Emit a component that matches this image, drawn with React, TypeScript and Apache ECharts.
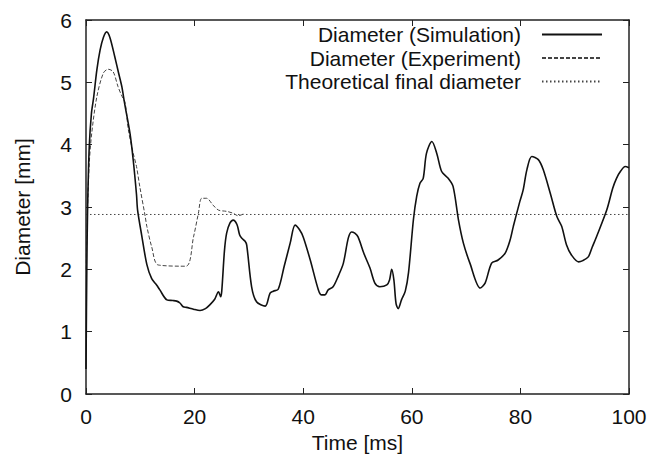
import React, { useEffect, useRef } from "react";
import * as echarts from "echarts";

const xTicks = [0, 20, 40, 60, 80, 100];
const yTicks = [0, 1, 2, 3, 4, 5, 6];

const simTime = [
  0, 0.15, 0.3, 0.6, 1.0, 1.4, 2.0, 2.6, 3.2, 3.8, 4.4, 5.3, 6.0, 6.6, 7.0, 7.2, 8.1, 8.7, 9.3, 9.5,
  10.25, 11.2, 12.1, 13.0, 13.6, 14.9, 16.0, 16.7, 17.3, 17.9, 18.5, 19.8, 21.0, 22.0, 22.8, 23.7,
  24.4, 24.8, 25.0, 25.5, 25.9, 26.5, 27.1, 27.8, 28.3, 28.7, 29.3, 29.6, 30.5, 31.4, 33.0, 33.9,
  34.5, 35.4, 36.5, 37.6, 38.5, 39.3, 40.0, 41.3, 42.8, 43.4, 44.0, 44.6, 45.5, 46.5, 47.4, 48.3,
  48.9, 49.5, 50.1, 51.2, 52.3, 53.2, 54.1, 55.4, 55.9, 56.3, 56.7, 57.1, 57.5, 58.1, 58.8, 59.4,
  60.3, 60.9, 61.5, 62.1, 62.7, 63.7, 64.6, 65.5, 66.7, 67.6, 68.6, 69.5, 70.7, 72.6, 73.5, 74.7,
  75.9, 77.2, 78.1, 78.7, 79.9, 80.5, 81.2, 82.1, 83.3, 84.2, 85.5, 86.7, 87.6, 88.5, 89.4, 90.7,
  91.5, 92.5, 93.2, 94.0, 95.9, 97.0, 97.7, 98.5, 99.3, 100,
];
const simDiameter = [
  0.4, 2.0, 3.0, 3.97, 4.5, 4.75, 5.2, 5.52, 5.72, 5.81, 5.72, 5.41, 5.15, 4.93, 4.72, 4.62, 4.18, 3.75, 3.2, 2.95,
  2.55, 2.08, 1.85, 1.75, 1.67, 1.51, 1.5, 1.49, 1.46, 1.4, 1.39, 1.36, 1.34, 1.37, 1.43, 1.52,
  1.64, 1.56, 1.65, 2.3, 2.58, 2.74, 2.79, 2.72, 2.55, 2.5, 2.45, 2.39, 1.72, 1.48, 1.41, 1.62,
  1.65, 1.68, 2.05, 2.42, 2.71, 2.64, 2.52, 2.15, 1.67, 1.59, 1.59, 1.67, 1.72, 1.9, 2.1, 2.5,
  2.6, 2.58, 2.52, 2.25, 2.02, 1.78, 1.72, 1.75, 1.83, 2.0, 1.83, 1.45, 1.37, 1.51, 1.65, 1.95,
  2.8, 3.17, 3.38, 3.46, 3.86, 4.05, 3.86, 3.57, 3.46, 3.33, 2.79, 2.42, 2.1, 1.7, 1.78, 2.1,
  2.15, 2.26, 2.47, 2.69, 3.09, 3.27, 3.6, 3.81, 3.76, 3.6, 3.22, 2.85, 2.69, 2.39, 2.23, 2.12,
  2.14, 2.2, 2.35, 2.52, 2.95, 3.3, 3.46, 3.58, 3.65, 3.63,
];

const expTime = [
  0, 0.3, 0.6, 1.05, 2.0, 3.2, 4.1, 5.0, 5.9, 6.5, 7.2, 7.8, 8.7, 9.3, 9.9, 10.9, 11.2, 12.1, 13.3,
  18.4, 19.8, 20.7, 21.3, 22.2, 23.4, 24.4, 25.9, 27.1, 28.0, 29.3,
];
const expDiameter = [
  2.0, 3.0, 3.7, 4.18, 4.77, 5.15, 5.21, 5.17, 4.93, 4.8, 4.67, 4.24, 3.86, 3.65, 3.33, 2.85, 2.69, 2.36, 2.07,
  2.05, 2.52, 2.9, 3.14, 3.14, 3.03, 2.95, 2.93, 2.9, 2.86, 2.9,
];

const theoreticalDiameter = 2.88;
const theoryTime = [0, 100];

const seriesNames = ["Diameter (Simulation)", "Diameter (Experiment)", "Theoretical final diameter"];

const FONT = "'Liberation Sans', Arial, Helvetica, sans-serif";

export default function App() {
  const ref = useRef<HTMLDivElement>(null);
  useEffect(() => {
    if (!ref.current) return;
    const chart = echarts.init(ref.current, undefined, { renderer: "svg" });
    const zip = (xs: number[], ys: number[]) => xs.map((x, i) => [x, ys[i]]);
    const axisLine = { show: true, onZero: false, lineStyle: { color: "#222", width: 1.5 } };
    const axisTick = { show: true, inside: true, length: 6, lineStyle: { color: "#222", width: 1 } };
    chart.setOption({
      animation: false,
      backgroundColor: "#fff",
      textStyle: { fontFamily: FONT },
      grid: { left: 86, top: 20, right: 25, bottom: 68 },
      legend: {
        orient: "vertical",
        right: 46,
        top: 19,
        align: "right",
        itemWidth: 60,
        itemHeight: 10,
        itemGap: 2.5,
        data: seriesNames,
        itemStyle: { opacity: 0 },
        textStyle: { fontSize: 21, color: "#111", fontFamily: FONT, padding: [0, 16, 0, 0] },
      },
      xAxis: [
        {
          type: "value",
          min: xTicks[0],
          max: xTicks[xTicks.length - 1],
          interval: 20,
          name: "Time [ms]",
          nameLocation: "middle",
          nameGap: 36,
          nameTextStyle: { fontSize: 21, color: "#111", fontFamily: FONT },
          axisLine,
          axisTick,
          splitLine: { show: false },
          axisLabel: { fontSize: 21, color: "#111", margin: 12, fontFamily: FONT },
        },
        {
          type: "value",
          position: "top",
          min: 0,
          max: 100,
          interval: 20,
          axisLine,
          axisTick,
          splitLine: { show: false },
          axisLabel: { show: false },
        },
      ],
      yAxis: [
        {
          type: "value",
          min: yTicks[0],
          max: yTicks[yTicks.length - 1],
          interval: 1,
          name: "Diameter [mm]",
          nameLocation: "middle",
          nameGap: 53,
          nameTextStyle: { fontSize: 21, color: "#111", fontFamily: FONT },
          axisLine,
          axisTick,
          splitLine: { show: false },
          axisLabel: { fontSize: 21, color: "#111", margin: 14, fontFamily: FONT },
        },
        {
          type: "value",
          position: "right",
          min: 0,
          max: 6,
          interval: 1,
          axisLine,
          axisTick,
          splitLine: { show: false },
          axisLabel: { show: false },
        },
      ],
      series: [
        {
          name: seriesNames[0],
          type: "line",
          data: zip(simTime, simDiameter),
          showSymbol: false,
          symbol: "none",
          smooth: 0.3,
          lineStyle: { color: "#111", width: 1.6, type: "solid" },
          itemStyle: { color: "#111" },
          z: 4,
        },
        {
          name: seriesNames[1],
          type: "line",
          data: zip(expTime, expDiameter),
          showSymbol: false,
          symbol: "none",
          smooth: 0.3,
          lineStyle: { color: "#444", width: 1, type: [4, 2] },
          itemStyle: { color: "#444" },
          z: 3,
        },
        {
          name: seriesNames[2],
          type: "line",
          data: theoryTime.map((t) => [t, theoreticalDiameter]),
          showSymbol: false,
          symbol: "none",
          lineStyle: { color: "#444", width: 1, type: [1.5, 2.5] },
          itemStyle: { color: "#444" },
          z: 2,
        },
      ],
    });
    return () => chart.dispose();
  }, []);
  return <div ref={ref} style={{ width: 654, height: 462, position: "absolute", left: 0, top: 0 }} />;
}
